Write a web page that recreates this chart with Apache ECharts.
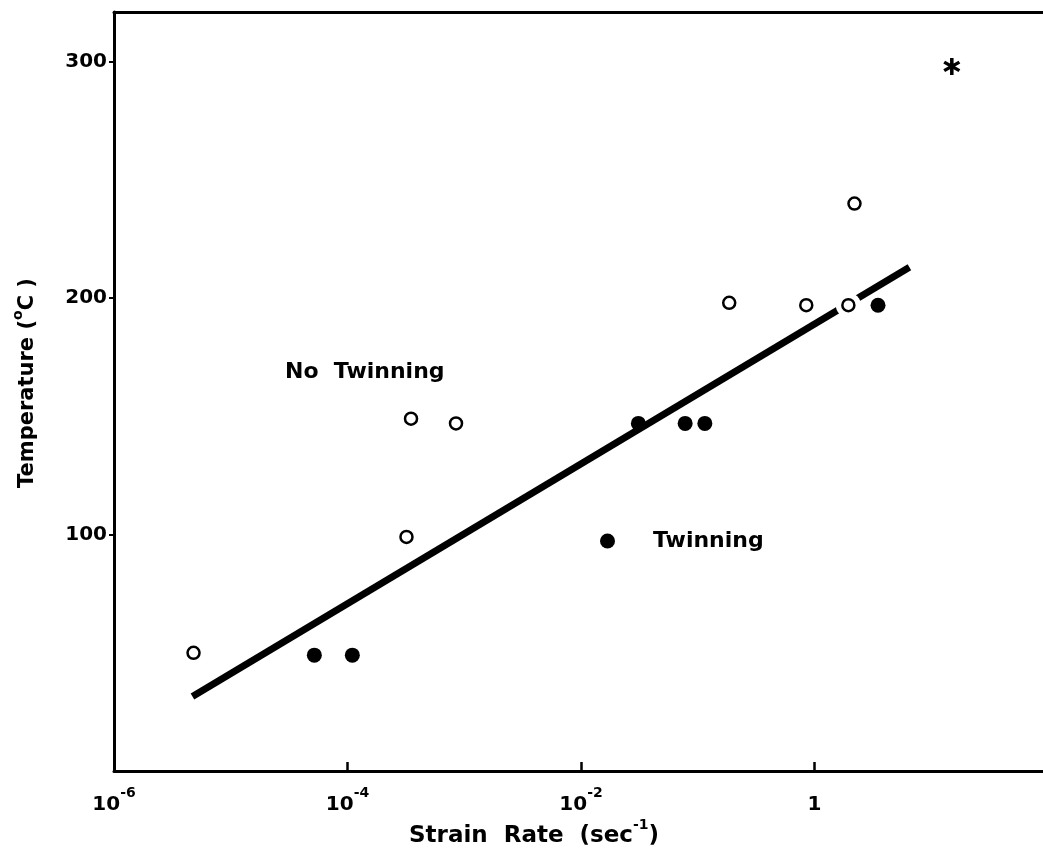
<!DOCTYPE html>
<html>
<head>
<meta charset="utf-8">
<title>Strain rate vs temperature</title>
<script src="https://cdn.jsdelivr.net/npm/echarts@6/dist/echarts.min.js"></script>
<style>
  html, body { margin: 0; padding: 0; background: #fff; }
  #chart { width: 1043px; height: 854px; }
</style>
</head>
<body>
<div id="chart"></div>
<script>
// strain rate (sec^-1) on a log axis, temperature (°C) on a linear one
const openRate = [4.8e-6, 3.2e-4, 3.5e-4, 8.5e-4, 0.186, 0.85, 1.95, 2.2]
const openTemp = [50, 99, 149, 147, 198, 197, 197, 240]

const filledRate = [5.2e-5, 1.1e-4, 0.031, 0.078, 0.115, 3.5]
const filledTemp = [49, 49, 147, 147, 147, 197]

const starRate = [15]
const starTemp = [298]

// straight fitted boundary, two ends
const fitRate = [4.7e-6, 6.5]
const fitTemp = [31.5, 213]

const rateTicks = [1e-4, 1e-2, 1]
const rateLabels = [1e-6, 1e-4, 1e-2, 1]
const tempTicks = [100, 200, 300]

const FONT = 'DejaVu Sans'
const ASTERISK = 'path://M-1.6,-8L1.6,-8L1.6,8L-1.6,8Z' +
  'M6.128,-5.386L7.728,-2.614L-6.128,5.386L-7.728,2.614Z' +
  'M-7.728,-2.614L-6.128,-5.386L7.728,2.614L6.128,5.386Z'

function pairs(xs, ys) {
  return xs.map((x, i) => [x, ys[i]])
}

function rateLabel(value) {
  const power = Math.round(Math.log10(value))
  if (power === 0) {
    return '1'
  }
  return '10{sup|' + power + '}'
}

const chart = echarts.init(document.getElementById('chart'))

chart.setOption({
  animation: false,
  backgroundColor: '#fff',
  grid: {
    left: 114,
    top: 12,
    width: 934,
    height: 759,
    outerBoundsMode: 'none'
  },
  legend: {
    left: 600,
    top: 530,
    padding: 0,
    selectedMode: false,
    data: ['Twinning'],
    icon: 'circle',
    itemWidth: 15,
    itemHeight: 15,
    itemStyle: { opacity: 1 },
    textStyle: {
      fontFamily: FONT,
      fontWeight: 'bold',
      fontSize: 22,
      color: '#000',
      padding: [0, 0, 0, 33]
    }
  },
  xAxis: [
    {
      type: 'log',
      logBase: 10,
      min: 1e-6,
      max: 100,
      axisLine: { lineStyle: { color: '#000', width: 3 } },
      axisTick: {
        inside: true,
        length: 9,
        customValues: rateTicks,
        lineStyle: { color: '#000', width: 2.5 }
      },
      minorTick: { show: false },
      splitLine: { show: false },
      axisLabel: {
        customValues: rateLabels,
        formatter: rateLabel,
        margin: 15,
        color: '#000',
        fontFamily: FONT,
        fontWeight: 'bold',
        fontSize: 20,
        lineHeight: 38,
        rich: {
          sup: {
            fontFamily: FONT,
            fontWeight: 'bold',
            fontSize: 14,
            lineHeight: 10,
            verticalAlign: 'top',
            color: '#000'
          }
        }
      }
    },
    {
      // top frame line only, the plot runs off the right edge
      type: 'log',
      logBase: 10,
      min: 1e-6,
      max: 100,
      position: 'top',
      axisLine: { show: true, lineStyle: { color: '#000', width: 3 } },
      axisTick: { show: false },
      axisLabel: { show: false },
      splitLine: { show: false }
    }
  ],
  yAxis: {
    type: 'value',
    min: 0,
    max: 321,
    interval: 100,
    axisLine: { show: true, lineStyle: { color: '#000', width: 3 } },
    axisTick: {
      show: true,
      length: 5,
      customValues: tempTicks,
      lineStyle: { color: '#000', width: 2 }
    },
    splitLine: { show: false },
    axisLabel: {
      customValues: tempTicks,
      margin: 7,
      color: '#000',
      fontFamily: FONT,
      fontWeight: 'bold',
      fontSize: 20
    }
  },
  series: [
    {
      name: 'fit',
      type: 'line',
      data: pairs(fitRate, fitTemp),
      symbol: 'none',
      silent: true,
      z: 2,
      lineStyle: { color: '#000', width: 7, cap: 'butt' }
    },
    {
      // white gap where the line passes behind an open circle
      name: 'halo',
      type: 'scatter',
      data: pairs(openRate, openTemp),
      symbolSize: 25,
      silent: true,
      z: 3,
      itemStyle: { color: '#fff', opacity: 1 }
    },
    {
      name: 'No Twinning',
      type: 'scatter',
      data: pairs(openRate, openTemp),
      symbol: 'circle',
      symbolSize: 12,
      z: 4,
      itemStyle: { color: '#fff', borderColor: '#000', borderWidth: 2.5, opacity: 1 }
    },
    {
      name: 'Twinning',
      type: 'scatter',
      data: pairs(filledRate, filledTemp),
      symbol: 'circle',
      symbolSize: 15,
      z: 4,
      itemStyle: { color: '#000', opacity: 1 }
    },
    {
      name: 'star',
      type: 'scatter',
      data: pairs(starRate, starTemp),
      symbol: ASTERISK,
      symbolSize: 17,
      z: 4,
      itemStyle: { color: '#000', opacity: 1 }
    }
  ],
  graphic: [
    {
      type: 'text',
      x: 28,
      y: 383,
      rotation: Math.PI / 2,
      style: {
        text: 'Temperature ({deg|o}C )',
        fontFamily: FONT,
        fontWeight: 'bold',
        fontSize: 21,
        lineHeight: 34,
        fill: '#000',
        align: 'center',
        verticalAlign: 'middle',
        rich: {
          deg: {
            fontFamily: FONT,
            fontWeight: 'bold',
            fontSize: 14,
            lineHeight: 10,
            verticalAlign: 'top',
            fill: '#000'
          }
        }
      }
    },
    {
      type: 'text',
      x: 534,
      y: 836,
      style: {
        text: 'Strain  Rate  (sec{sup|-1})',
        fontFamily: FONT,
        fontWeight: 'bold',
        fontSize: 23,
        lineHeight: 36,
        fill: '#000',
        align: 'center',
        verticalAlign: 'middle',
        rich: {
          sup: {
            fontFamily: FONT,
            fontWeight: 'bold',
            fontSize: 14,
            lineHeight: 10,
            verticalAlign: 'top',
            fill: '#000'
          }
        }
      }
    },
    {
      type: 'text',
      x: 285,
      y: 372,
      style: {
        text: 'No  Twinning',
        fontFamily: FONT,
        fontWeight: 'bold',
        fontSize: 22,
        fill: '#000',
        align: 'left',
        verticalAlign: 'middle'
      }
    }
  ]
})
</script>
</body>
</html>
